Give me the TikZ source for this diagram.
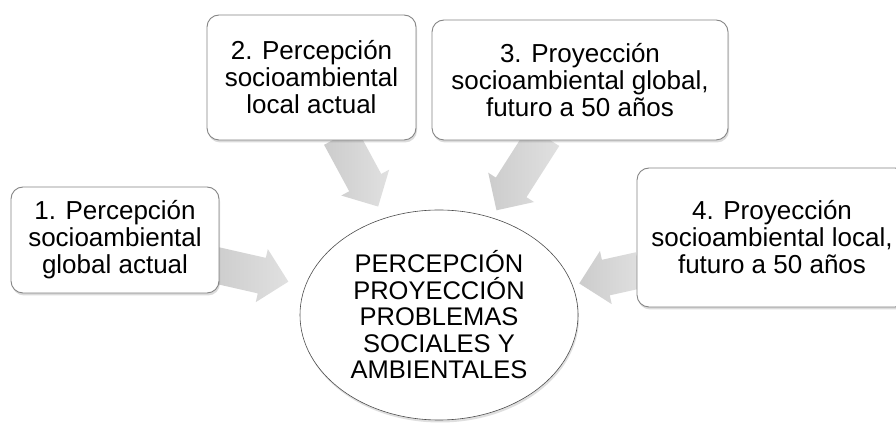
\documentclass[tikz,border=0pt]{standalone}
\usepackage{fontspec}
\setmainfont{Liberation Sans}
\usetikzlibrary{shapes.arrows,shapes.geometric,shadows}
\pgfdeclarelayer{bg}
\pgfsetlayers{bg,main}
\begin{document}
\begin{tikzpicture}[x=1pt,y=1pt,
  box/.style={draw=black!48, line width=0.9pt, rounded corners=12pt, fill=white,
    align=center, inner sep=0pt, font=\fontsize{26}{27}\selectfont,
    drop shadow={opacity=0.28, shadow xshift=1pt, shadow yshift=-2.5pt}},
  bigarrow/.style={single arrow, single arrow head extend=9pt, minimum width=54pt,
    inner xsep=0pt, inner ysep=18pt, left color=black!20, right color=black!12,
    draw=none, anchor=tail},
  hub/.style={ellipse, draw=black!70, line width=0.6pt, fill=white, inner sep=0pt,
    align=center, font=\fontsize{25.5}{26.5}\selectfont,
    drop shadow={opacity=0.25, shadow xshift=1pt, shadow yshift=-2.5pt}}]
\useasboundingbox (0,0) rectangle (896,425);
\begin{pgfonlayer}{bg}
  \fill[white] (0,0) rectangle (896,425);
  \node[bigarrow, rotate=-12.8, minimum height=75pt] (a1) at (215,160) {};
  \node[bigarrow, rotate=-61.6, minimum height=80pt] (a2) at (340,289) {};
  \node[bigarrow, rotate=-122.6, minimum height=88pt] (a3) at (544,289) {};
  \node[bigarrow, rotate=-167.5, minimum height=62pt] (a4) at (640,155) {};
\end{pgfonlayer}
\node[box, minimum width=208pt, minimum height=106pt] (b1) at (115,185)
  {1. Percepción\\socioambiental\\global actual};
\node[box, minimum width=209pt, minimum height=125pt] (b2) at (311.5,347.5)
  {2. Percepción\\socioambiental\\local actual};
\node[box, minimum width=296pt, minimum height=120pt] (b3) at (580,345)
  {3. Proyección\\socioambiental global,\\futuro a 50 años};
\node[box, minimum width=270pt, minimum height=139pt] (b4) at (772,187.5)
  {4. Proyección\\socioambiental local,\\futuro a 50 años};
\node[hub, minimum width=278pt, minimum height=210pt] (c) at (439,110)
  {PERCEPCIÓN\\PROYECCIÓN\\PROBLEMAS\\SOCIALES Y\\AMBIENTALES};
\end{tikzpicture}
\end{document}
